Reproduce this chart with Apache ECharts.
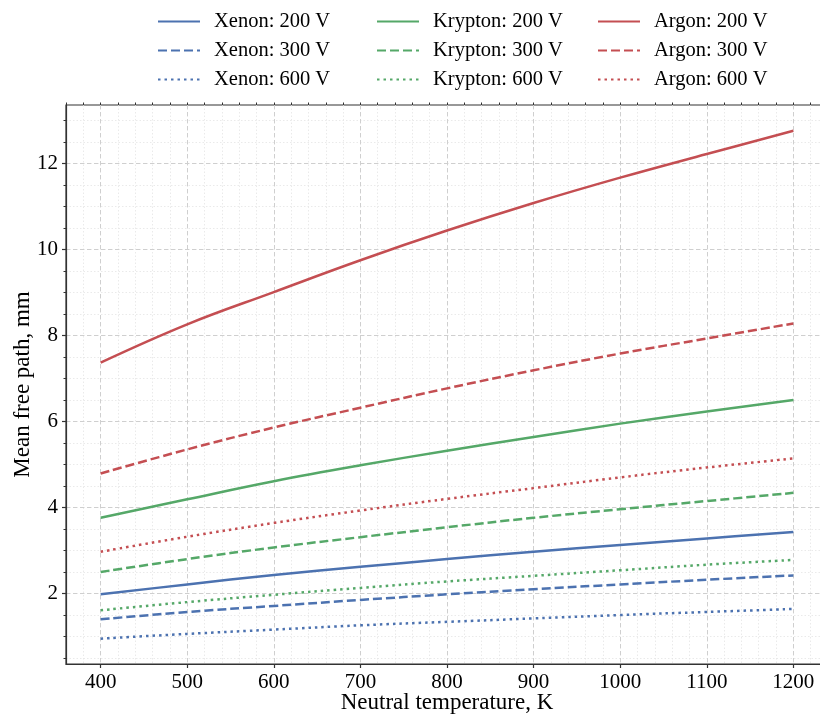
<!DOCTYPE html>
<html><head><meta charset="utf-8">
<script src="https://cdn.jsdelivr.net/npm/echarts@6/dist/echarts.min.js"></script>
<style>html,body{margin:0;padding:0;background:#fff}#c{width:820px;height:714px}</style>
</head><body><div id="c"></div>
<script>
// Data
const temperatures = [400, 500, 600, 700, 800, 900, 1000, 1100, 1200];
const xenon200   = [1.98, 2.21, 2.43, 2.62, 2.80, 2.97, 3.13, 3.28, 3.43];
const xenon300   = [1.40, 1.57, 1.71, 1.85, 1.98, 2.10, 2.21, 2.32, 2.42];
const xenon600   = [0.95, 1.06, 1.16, 1.26, 1.34, 1.42, 1.50, 1.57, 1.64];
const krypton200 = [3.76, 4.19, 4.61, 4.98, 5.32, 5.64, 5.95, 6.23, 6.50];
const krypton300 = [2.50, 2.80, 3.07, 3.31, 3.54, 3.76, 3.96, 4.15, 4.34];
const krypton600 = [1.61, 1.80, 1.97, 2.13, 2.28, 2.41, 2.54, 2.67, 2.78];
const argon200   = [7.37, 8.26, 9.01, 9.75, 10.44, 11.08, 11.67, 12.22, 12.76];
const argon300   = [4.79, 5.35, 5.86, 6.32, 6.77, 7.19, 7.58, 7.93, 8.28];
const argon600   = [2.97, 3.32, 3.64, 3.93, 4.20, 4.45, 4.70, 4.93, 5.14];

const xMajorTicks = [400, 500, 600, 700, 800, 900, 1000, 1100, 1200];
const yMajorTicks = [2, 4, 6, 8, 10, 12];
const yMinorTicks = [0.5, 1, 1.5, 2, 2.5, 3, 3.5, 4, 4.5, 5, 5.5, 6, 6.5, 7, 7.5, 8, 8.5, 9, 9.5, 10, 10.5, 11, 11.5, 12, 12.5, 13];

const seriesNames = ['Xenon: 200 V','Xenon: 300 V','Xenon: 600 V','Krypton: 200 V','Krypton: 300 V','Krypton: 600 V','Argon: 200 V','Argon: 300 V','Argon: 600 V'];
const seriesValues = [xenon200, xenon300, xenon600, krypton200, krypton300, krypton600, argon200, argon300, argon600];

const BLUE = '#4C72B0', GREEN = '#55A868', RED = '#C44E52';
const colors = [BLUE, BLUE, BLUE, GREEN, GREEN, GREEN, RED, RED, RED];
const LW = 2.5;
const styles = ['solid', [9, 4], [2.5, 4]];

const FONT = '"Liberation Serif", "Times New Roman", serif';
const AX = '#333333';

const series = seriesNames.map((name, i) => ({
  name: name,
  type: 'line',
  xAxisIndex: 0,
  yAxisIndex: 0,
  showSymbol: false,
  symbol: 'none',
  smooth: 0.4,
  data: temperatures.map((t, k) => [t, seriesValues[i][k]]),
  lineStyle: { color: colors[i], width: LW, type: styles[i % 3], cap: 'butt' },
  itemStyle: { color: colors[i] },
  z: 5
}));

function legendCol(names, left) {
  return {
    show: true,
    data: names,
    orient: 'vertical',
    left: left,
    top: 6,
    padding: 5,
    itemWidth: 42,
    itemHeight: 14,
    itemGap: 8,
    itemStyle: { opacity: 0, borderWidth: 0 },
    textStyle: { fontFamily: FONT, fontSize: 20.5, color: '#000', padding: [0, 0, 0, 9], lineHeight: 21 }
  };
}

const chart = echarts.init(document.getElementById('c'), null, { renderer: 'canvas' });
chart.setOption({
  animation: false,
  backgroundColor: '#fff',
  legend: [
    legendCol(seriesNames.slice(0, 3), 152),
    legendCol(seriesNames.slice(3, 6), 371),
    legendCol(seriesNames.slice(6, 9), 592)
  ],
  grid: {
    left: 66, top: 105, right: -8, bottom: 50,
    containLabel: false, outerBoundsMode: 'none',
    show: true, borderColor: AX, borderWidth: 1.2, backgroundColor: 'transparent'
  },
  xAxis: [
    {
      type: 'value', min: 360, max: 1240,
      name: 'Neutral temperature, K', nameLocation: 'middle', nameGap: 27, nameMoveOverlap: false,
      nameTextStyle: { fontFamily: FONT, fontSize: 23, color: '#000' },
      axisLine: { show: true, lineStyle: { color: AX, width: 1.2 } },
      axisTick: { show: true, customValues: xMajorTicks, length: 4, lineStyle: { color: AX, width: 1.2 } },
      axisLabel: { show: true, customValues: xMajorTicks, margin: 8, fontFamily: FONT, fontSize: 21, color: '#000', formatter: v => String(v) },
      splitLine: { show: true, lineStyle: { color: '#cfcfcf', width: 1, type: [4, 3] } },
      z: 3
    },
    {
      type: 'value', min: 360, max: 1240, interval: 20,
      axisLine: { show: false },
      axisTick: { show: true, length: 2.5, lineStyle: { color: AX, width: 1 } },
      axisLabel: { show: false },
      splitLine: { show: true, lineStyle: { color: '#e4e4e4', width: 0.8, type: [1.5, 2] } },
      z: 2
    }
  ],
  yAxis: [
    {
      type: 'value', min: 0.36, max: 13.36,
      name: 'Mean free path, mm', nameLocation: 'middle', nameGap: 32, nameMoveOverlap: false,
      nameTextStyle: { fontFamily: FONT, fontSize: 23, color: '#000' },
      axisLine: { show: true, lineStyle: { color: AX, width: 1.2 } },
      axisTick: { show: true, customValues: yMajorTicks, length: 4, lineStyle: { color: AX, width: 1.2 } },
      axisLabel: { show: true, customValues: yMajorTicks, margin: 8, fontFamily: FONT, fontSize: 21, color: '#000', formatter: v => String(v) },
      splitLine: { show: true, lineStyle: { color: '#cfcfcf', width: 1, type: [4, 3] } },
      z: 3
    },
    {
      type: 'value', min: 0.36, max: 13.36, position: 'left',
      axisLine: { show: false },
      axisTick: { show: true, customValues: yMinorTicks, length: 2.5, lineStyle: { color: AX, width: 1 } },
      axisLabel: { show: false },
      splitLine: { show: true, lineStyle: { color: '#e4e4e4', width: 0.8, type: [1.5, 2] } },
      z: 2
    }
  ],
  series: series
});
</script></body></html>
